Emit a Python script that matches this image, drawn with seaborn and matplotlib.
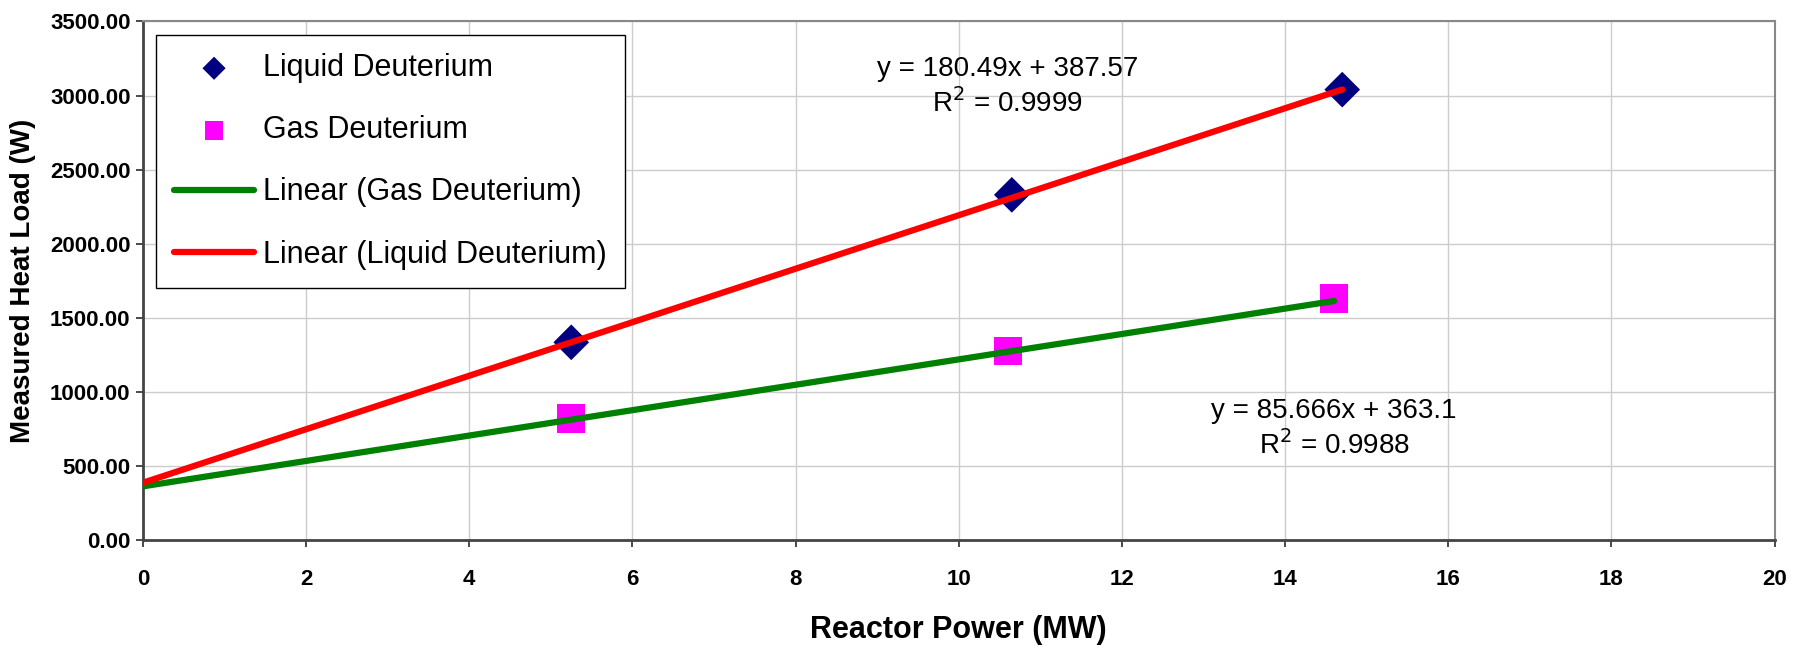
import numpy as np
import pandas as pd
import matplotlib
matplotlib.use("Agg")
import matplotlib.pyplot as plt
import seaborn as sns

# Data
liquid_power = [5.25, 10.65, 14.7]
liquid_load = [1335, 2330, 3040]
gas_power = [5.25, 10.6, 14.6]
gas_load = [820, 1275, 1630]

# Excel trendline coefficients shown on the chart
liquid_slope, liquid_icpt, liquid_r2 = 180.49, 387.57, 0.9999
gas_slope, gas_icpt, gas_r2 = 85.666, 363.1, 0.9988

x_ticks = list(range(0, 21, 2))
y_ticks = list(range(0, 3501, 500))

sns.set_theme(style="whitegrid")
plt.rcParams["font.family"] = ["Liberation Sans", "DejaVu Sans"]
plt.rcParams["text.color"] = "black"
plt.rcParams["axes.labelcolor"] = "black"
plt.rcParams["xtick.color"] = "black"
plt.rcParams["ytick.color"] = "black"

fig, ax = plt.subplots(figsize=(17.98, 6.5), dpi=100)
fig.subplots_adjust(left=0.0795, right=0.987, top=0.967, bottom=0.169)

# trend lines from x=0 to last measurement
gx = np.array([0, max(gas_power)])
lx = np.array([0, max(liquid_power)])
sns.lineplot(x=gx, y=gas_slope * gx + gas_icpt, color="#008000", lw=4.5, ax=ax,
             label="Linear (Gas Deuterium)", zorder=3)
sns.lineplot(x=lx, y=liquid_slope * lx + liquid_icpt, color="#FF0000", lw=4.5, ax=ax,
             label="Linear (Liquid Deuterium)", zorder=3)

sns.scatterplot(x=liquid_power, y=liquid_load, marker="D", color="#000080", s=330,
                edgecolor="none", ax=ax, label="Liquid Deuterium", zorder=2)
sns.scatterplot(x=gas_power, y=gas_load, marker="s", color="#FF00FF", s=420,
                edgecolor="none", ax=ax, label="Gas Deuterium", zorder=2)

ax.set_xlim(0, 20)
ax.set_ylim(0, 3500)
ax.set_xticks(x_ticks)
ax.set_yticks(y_ticks)
ax.set_yticklabels([f"{v:.2f}" for v in y_ticks])
ax.tick_params(axis="both", labelsize=16, length=5, color="#333333", direction="out",
               bottom=True, left=True)
for lab in ax.get_xticklabels() + ax.get_yticklabels():
    lab.set_fontweight("bold")
ax.tick_params(axis="x", pad=16)
ax.tick_params(axis="y", pad=4)

ax.grid(True, color="#cccccc", lw=1)
for side in ["left", "bottom"]:
    ax.spines[side].set_color("#444444")
    ax.spines[side].set_linewidth(2)
for side in ["top", "right"]:
    ax.spines[side].set_color("#888888")
    ax.spines[side].set_linewidth(1.5)

ax.set_xlabel("Reactor Power (MW)", fontsize=22, fontweight="bold", labelpad=18)
ax.set_ylabel("Measured Heat Load (W)", fontsize=20, fontweight="bold", labelpad=10)

ax.text(10.6, 3060, f"y = {liquid_slope}x + {liquid_icpt}\nR$^2$ = {liquid_r2}",
        ha="center", va="center", fontsize=20, linespacing=1.25)
ax.text(14.6, 750, f"y = {gas_slope}x + {gas_icpt}\nR$^2$ = {gas_r2}",
        ha="center", va="center", fontsize=20, linespacing=1.25)

handles, labels = ax.get_legend_handles_labels()
order = [labels.index(n) for n in ["Liquid Deuterium", "Gas Deuterium",
                                   "Linear (Gas Deuterium)", "Linear (Liquid Deuterium)"]]
leg = ax.legend([handles[i] for i in order], [labels[i] for i in order],
                loc="upper left", bbox_to_anchor=(0.008, 0.974), fontsize=22,
                frameon=True, fancybox=False, edgecolor="black", framealpha=1,
                labelspacing=1.05, handlelength=2.6, handletextpad=0.3,
                borderpad=0.6, borderaxespad=0, markerscale=0.65)
leg.get_frame().set_linewidth(1)

fig.savefig("out.png", dpi=100)
